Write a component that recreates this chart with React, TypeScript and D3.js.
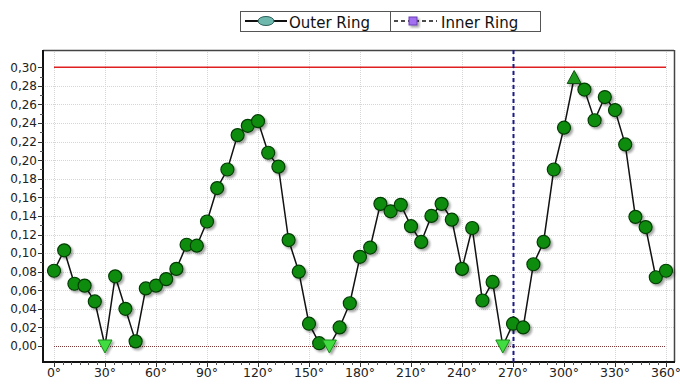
import React from "react";
import * as d3 from "d3";

const angles = [0,6,12,18,24,30,36,42,48,54,60,66,72,78,84,90,96,102,108,114,120,126,132,138,144,150,156,162,168,174,180,186,192,198,204,210,216,222,228,234,240,246,252,258,264,270,276,282,288,294,300,306,312,318,324,330,336,342,348,354,360];
const outerRing = [0.081,0.103,0.067,0.065,0.048,0.000,0.075,0.040,0.005,0.062,0.065,0.072,0.083,0.109,0.108,0.134,0.170,0.190,0.227,0.237,0.242,0.208,0.193,0.114,0.080,0.024,0.003,0.000,0.020,0.046,0.096,0.106,0.153,0.145,0.152,0.129,0.112,0.140,0.153,0.136,0.083,0.127,0.049,0.069,0.000,0.024,0.020,0.088,0.112,0.190,0.235,0.289,0.276,0.243,0.268,0.254,0.217,0.139,0.128,0.074,0.081];
const xTicks = [0,30,60,90,120,150,180,210,240,270,300,330,360];
const yTicks = [0,0.02,0.04,0.06,0.08,0.10,0.12,0.14,0.16,0.18,0.20,0.22,0.24,0.26,0.28,0.30];
const upperLimit = 0.30;
const lowerLimit = 0.0;
const markerAngle = 270;
const legendLabels = ["Outer Ring", "Inner Ring"];

const W = 680, H = 385;
const frame = { l: 43, t: 50, r: 674, b: 362 };
const FONT = "'DejaVu Sans', Verdana, sans-serif";

export default function App() {
  const x = d3.scaleLinear().domain([0, 360]).range([54, 666]);
  const y = d3.scaleLinear().domain([0, 0.30]).range([346, 67.3]);
  const pts = angles.map((a, i) => ({ a, v: outerRing[i] }));
  const maxV = d3.max(outerRing) as number;
  const line = d3.line<{ a: number; v: number }>().x(d => x(d.a)).y(d => y(d.v));
  const minorX = d3.range(0, 361, 5).filter(v => v % 30 !== 0);
  const minorY = d3.range(0.01, 0.31, 0.02);
  const fmt = (v: number) => v.toFixed(2).replace(".", ",");
  const py = (v: number) => Math.round(y(v)) + 0.5;
  const px = (v: number) => Math.round(x(v)) + 0.5;

  return (
    <svg width={W} height={H} style={{ position: "absolute", left: 0, top: 0, background: "#fff" }}>
      <defs>
        <filter id="sh" x="-50%" y="-50%" width="200%" height="200%">
          <feDropShadow dx="2" dy="2" stdDeviation="1.3" floodColor="#000" floodOpacity="0.35" />
        </filter>
      </defs>
      <rect width={W} height={H} fill="#fff" />

      {/* legend */}
      <g fontFamily={FONT} fontSize={15} fill="#111">
        <rect x={240.5} y={11.5} width={300} height={20} fill="#fff" stroke="#555" strokeWidth={1} />
        <line x1={390.5} x2={390.5} y1={11.5} y2={31.5} stroke="#555" />
        <line x1={245} x2={287} y1={21} y2={21} stroke="#111" strokeWidth={2} />
        <ellipse cx={266} cy={21} rx={8} ry={4.5} fill="#6fb8ad" stroke="#2d5f58" strokeWidth={1} />
        <text x={289} y={27.5}>{legendLabels[0]}</text>
        <line x1={394} x2={437} y1={21} y2={21} stroke="#111" strokeWidth={1.5} strokeDasharray="4,3" />
        <rect x={409} y={17} width={8} height={8} fill="#a46ff2" stroke="#6a3fb5" strokeWidth={1} filter="url(#sh)" />
        <text x={441} y={27.5}>{legendLabels[1]}</text>
      </g>

      {/* grid */}
      <g stroke="#d6d6d6" strokeWidth={1} strokeDasharray="1,1">
        {yTicks.filter(v => v > 0 && v < upperLimit).map(v => (
          <line key={"gy" + v} x1={frame.l} x2={frame.r} y1={py(v)} y2={py(v)} />
        ))}
        {xTicks.map(v => (
          <line key={"gx" + v} x1={px(v)} x2={px(v)} y1={frame.t} y2={frame.b} />
        ))}
      </g>

      {/* limit lines */}
      <line x1={x(0)} x2={x(360)} y1={y(upperLimit)} y2={y(upperLimit)} stroke="#e02020" strokeWidth={1.6} />
      <line x1={x(0)} x2={x(360)} y1={py(lowerLimit)} y2={py(lowerLimit)} stroke="#7a3a3a" strokeWidth={1} strokeDasharray="1,1" />

      {/* frame */}
      <line x1={frame.l} x2={frame.r} y1={frame.t + 0.5} y2={frame.t + 0.5} stroke="#444" strokeWidth={1.5} />
      <line x1={frame.r + 0.5} x2={frame.r + 0.5} y1={frame.t} y2={frame.b} stroke="#444" strokeWidth={1.5} />
      <line x1={frame.l} x2={frame.l} y1={frame.t} y2={frame.b + 1} stroke="#111" strokeWidth={2} />
      <line x1={frame.l - 1} x2={frame.r + 1} y1={frame.b} y2={frame.b} stroke="#111" strokeWidth={2} />

      {/* y axis */}
      <g fontFamily={FONT} fontSize={12} fill="#222">
        {yTicks.map(v => (
          <g key={"yt" + v}>
            <line x1={frame.l - 5} x2={frame.l} y1={py(v)} y2={py(v)} stroke="#333" />
            <text x={37} y={y(v)} dy="0.36em" textAnchor="end">{fmt(v)}</text>
          </g>
        ))}
        {minorY.map(v => (
          <line key={"my" + v} x1={frame.l - 3} x2={frame.l} y1={py(v)} y2={py(v)} stroke="#555" />
        ))}
      </g>

      {/* x axis */}
      <g fontFamily={FONT} fontSize={12.5} fill="#222">
        {xTicks.map(v => (
          <g key={"xt" + v}>
            <line x1={px(v)} x2={px(v)} y1={frame.b} y2={frame.b + 5} stroke="#333" />
            <text x={x(v)} y={377} textAnchor="middle">{v + "°"}</text>
          </g>
        ))}
        {minorX.map(v => (
          <line key={"mx" + v} x1={px(v)} x2={px(v)} y1={frame.b} y2={frame.b + 3} stroke="#555" />
        ))}
      </g>

      {/* vertical marker */}
      <line x1={px(markerAngle)} x2={px(markerAngle)} y1={frame.t} y2={frame.b} stroke="#1b1b86" strokeWidth={2} strokeDasharray="4,3" />

      {/* series line */}
      <path d={line(pts) || ""} fill="none" stroke="#111" strokeWidth={1.5} />

      {/* markers */}
      <g filter="url(#sh)">
        {pts.map((p, i) => {
          const cx = x(p.a), cy = y(p.v);
          if (p.v === 0) {
            return <path key={i} d={`M${cx - 7},${cy - 6}L${cx + 7},${cy - 6}L${cx},${cy + 7}Z`} fill="#3fdc3f" stroke="#1c8a1c" strokeWidth={1} />;
          }
          if (p.v === maxV) {
            return <path key={i} d={`M${cx - 7},${cy + 6}L${cx + 7},${cy + 6}L${cx},${cy - 7}Z`} fill="#1f9a1f" stroke="#0c500c" strokeWidth={1} />;
          }
          return <circle key={i} cx={cx} cy={cy} r={6.5} fill="#0f8c0f" stroke="#063d06" strokeWidth={1.2} />;
        })}
      </g>
    </svg>
  );
}
